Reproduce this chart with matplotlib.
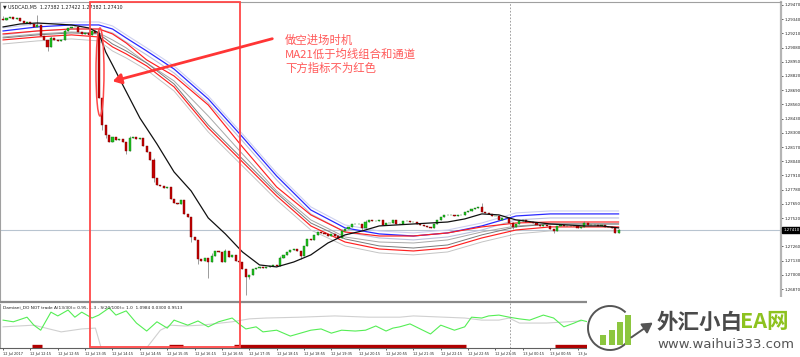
import numpy as np
import matplotlib
matplotlib.use('Agg')
import matplotlib.pyplot as plt
from matplotlib.patches import Rectangle, Ellipse, Arc, FancyArrowPatch

# ---------------- data (USDCAD M5) ----------------
open0 = 1.29340
closes = [
    1.29333, 1.29351, 1.29360, 1.29342, 1.29351, 1.29324, 1.29305, 1.29314, 1.29296, 1.29269,
    1.29287, 1.29186, 1.29150, 1.29086, 1.29168, 1.29150, 1.29141, 1.29150, 1.29232, 1.29260,
    1.29269, 1.29269, 1.29223, 1.29205, 1.29214, 1.29196, 1.29232, 1.29214, 1.28619, 1.28372,
    1.28281, 1.28216, 1.28262, 1.28235, 1.28244, 1.28216, 1.28134, 1.28253, 1.28262, 1.28244,
    1.28253, 1.28180, 1.28125, 1.28052, 1.27887, 1.27823, 1.27814, 1.27796, 1.27805, 1.27695,
    1.27658, 1.27649, 1.27686, 1.27558, 1.27530, 1.27347, 1.27320, 1.27146, 1.27128, 1.27155,
    1.27118, 1.27173, 1.27219, 1.27210, 1.27118, 1.27219, 1.27164, 1.27183, 1.27128, 1.27118,
    1.27054, 1.26981, 1.27000, 1.27054, 1.27064, 1.27073, 1.27064, 1.27073, 1.27082, 1.27091,
    1.27082, 1.27155, 1.27183, 1.27210, 1.27228, 1.27237, 1.27219, 1.27173, 1.27265, 1.27329,
    1.27320, 1.27366, 1.27393, 1.27384, 1.27375, 1.27356, 1.27375, 1.27356, 1.27338, 1.27402,
    1.27420, 1.27439, 1.27466, 1.27466, 1.27466, 1.27430, 1.27484, 1.27503, 1.27494, 1.27494,
    1.27503, 1.27457, 1.27475, 1.27475, 1.27503, 1.27466, 1.27466, 1.27494, 1.27494, 1.27484,
    1.27484, 1.27466, 1.27457, 1.27448, 1.27439, 1.27430, 1.27466, 1.27503, 1.27530, 1.27549,
    1.27549, 1.27549, 1.27539, 1.27549, 1.27549, 1.27576, 1.27585, 1.27603, 1.27613, 1.27622,
    1.27576, 1.27567, 1.27558, 1.27539, 1.27539, 1.27503, 1.27521, 1.27521, 1.27475, 1.27439,
    1.27466, 1.27494, 1.27503, 1.27484, 1.27484, 1.27475, 1.27457, 1.27448, 1.27457, 1.27448,
    1.27420, 1.27402, 1.27448, 1.27457, 1.27448, 1.27448, 1.27448, 1.27448, 1.27430, 1.27439,
    1.27475, 1.27457, 1.27457, 1.27457, 1.27448, 1.27457, 1.27439, 1.27439, 1.27430, 1.27382,
    1.27410]

wick_hi = {0: 1.29370, 9: 1.29300, 10: 1.29379, 14: 1.29190, 18: 1.29250, 28: 1.29240,
           37: 1.28270, 44: 1.28070, 61: 1.27200, 65: 1.27240, 81: 1.27170, 99: 1.27420,
           106: 1.27500, 140: 1.27658, 149: 1.27480, 170: 1.27490, 180: 1.27422}
wick_lo = {13: 1.29050, 29: 1.28326, 30: 1.28250, 36: 1.28110, 44: 1.27850, 55: 1.27300,
           57: 1.27100, 60: 1.26972, 71: 1.26817, 72: 1.26960, 87: 1.27150, 105: 1.27410,
           149: 1.27420, 161: 1.27380}

# moving averages / tunnel, sampled at these bars
knots = [0, 10, 20, 28, 32, 36, 42, 50, 60, 70, 80, 90, 100, 110, 120, 130, 140, 150, 160, 170, 180]
halo_top = [1.29260, 1.29296, 1.29314, 1.29314, 1.29278, 1.29196, 1.29077, 1.28912, 1.28637, 1.28290, 1.27933,
            1.27622, 1.27457, 1.27402, 1.27384, 1.27411, 1.27475, 1.27567, 1.27585, 1.27585, 1.27585]
ma_blue = [1.29232, 1.29269, 1.29287, 1.29287, 1.29250, 1.29168, 1.29049, 1.28884, 1.28610, 1.28262, 1.27905,
           1.27594, 1.27430, 1.27375, 1.27356, 1.27384, 1.27448, 1.27539, 1.27558, 1.27558, 1.27558]
gray_a = [1.29196, 1.29232, 1.29250, 1.29250, 1.29214, 1.29131, 1.29013, 1.28848, 1.28573, 1.28226, 1.27869,
          1.27558, 1.27393, 1.27338, 1.27320, 1.27347, 1.27411, 1.27503, 1.27521, 1.27521, 1.27521]
red_up = [1.29205, 1.29232, 1.29250, 1.29250, 1.29205, 1.29122, 1.28967, 1.28820, 1.28555, 1.28171, 1.27805,
          1.27549, 1.27393, 1.27356, 1.27356, 1.27384, 1.27439, 1.27475, 1.27484, 1.27484, 1.27484]
gray_b = [1.29177, 1.29205, 1.29223, 1.29214, 1.29150, 1.29077, 1.28939, 1.28775, 1.28454, 1.28107, 1.27768,
          1.27503, 1.27347, 1.27301, 1.27292, 1.27320, 1.27393, 1.27448, 1.27466, 1.27466, 1.27466]
gray_c = [1.29168, 1.29196, 1.29214, 1.29205, 1.29113, 1.29049, 1.28939, 1.28747, 1.28372, 1.28061, 1.27750,
          1.27475, 1.27329, 1.27265, 1.27246, 1.27274, 1.27366, 1.27439, 1.27466, 1.27466, 1.27466]
red_lo = [1.29150, 1.29177, 1.29196, 1.29177, 1.29086, 1.29022, 1.28912, 1.28720, 1.28345, 1.28034, 1.27723,
          1.27448, 1.27301, 1.27237, 1.27219, 1.27246, 1.27338, 1.27411, 1.27439, 1.27439, 1.27439]
gray_d = [1.29113, 1.29141, 1.29159, 1.29141, 1.29049, 1.28985, 1.28875, 1.28683, 1.28308, 1.27997, 1.27686,
          1.27411, 1.27265, 1.27201, 1.27183, 1.27210, 1.27301, 1.27375, 1.27402, 1.27402, 1.27402]

ma21_idx = [0, 5, 10, 15, 20, 25, 28, 30, 32, 35, 40, 45, 50, 55, 60, 65, 70, 75, 80, 85, 90, 95,
            100, 105, 110, 115, 120, 125, 130, 135, 140, 145, 150, 155, 160, 165, 170, 175, 180]
ma21 = [1.29269, 1.29296, 1.29305, 1.29296, 1.29287, 1.29260, 1.29214, 1.29040, 1.28921, 1.28738,
        1.28436, 1.28198, 1.27942, 1.27768, 1.27521, 1.27375, 1.27210, 1.27091, 1.27073, 1.27118,
        1.27183, 1.27292, 1.27366, 1.27402, 1.27448, 1.27457, 1.27466, 1.27475, 1.27484, 1.27512,
        1.27558, 1.27549, 1.27503, 1.27484, 1.27466, 1.27457, 1.27448, 1.27448, 1.27430]
last_price = 1.27410

# Damiani volatmeter sub window
green_idx = [0, 3, 7, 9, 11, 14, 16, 19, 21, 23, 26, 28, 31, 33, 36, 39, 42, 45, 48, 50, 54, 57, 60,
             63, 67, 69, 71, 74, 76, 80, 84, 87, 90, 93, 96, 99, 103, 106, 109, 112, 114, 116, 119,
             122, 125, 128, 132, 135, 137, 140, 142, 145, 148, 151, 154, 158, 161, 164, 167, 169, 171]
green_val = [0.64, 0.60, 0.71, 0.52, 0.40, 0.83, 0.74, 0.88, 0.71, 0.83, 0.69, 0.76, 0.93, 0.76, 0.86,
             0.57, 0.38, 0.60, 0.45, 0.64, 0.52, 0.62, 0.48, 0.60, 0.69, 0.55, 0.43, 0.48, 0.36, 0.40,
             0.26, 0.33, 0.40, 0.43, 0.33, 0.40, 0.38, 0.40, 0.50, 0.38, 0.45, 0.48, 0.55, 0.43, 0.31,
             0.52, 0.40, 0.48, 0.71, 0.69, 0.74, 0.76, 0.71, 0.67, 0.64, 0.76, 0.69, 0.48, 0.57, 0.64, 0.60]
gray_idx = [0, 9, 17, 23, 27, 28, 30, 40, 42, 46, 49, 53, 58, 67, 72, 77, 87, 97, 107, 116, 120,
            135, 140, 145, 148, 151, 159, 169]
gray_val = [0.48, 0.52, 0.36, 0.43, 0.45, 0.17, -0.40, -0.40, -0.02, 0.40, 0.52, 0.50, 0.52, 0.60,
            0.67, 0.69, 0.71, 0.74, 0.71, 0.71, 0.74, 0.69, 0.64, 0.64, 0.69, 0.57, 0.57, 0.62]
red_zones = [(9, 11), (49, 52), (68, 135), (162, 180)]

# 1.27390 sits under the live price box, so it is not listed
price_ticks = [1.26870, 1.27000, 1.27130, 1.27260, 1.27520, 1.27650, 1.27780, 1.27910,
               1.28040, 1.28170, 1.28300, 1.28430, 1.28560, 1.28690, 1.28820, 1.28950, 1.29080,
               1.29210, 1.29340, 1.29470]
time_ticks = [0, 8, 16, 24, 32, 40, 48, 56, 64, 72, 80, 88, 96, 104, 112, 120, 128, 136, 144, 152, 160, 168]
time_labels = ['12 Jul 2017', '12 Jul 12:15', '12 Jul 12:55', '12 Jul 13:35', '12 Jul 14:15',
               '12 Jul 14:55', '12 Jul 15:35', '12 Jul 16:15', '12 Jul 16:55', '12 Jul 17:35',
               '12 Jul 18:15', '12 Jul 18:55', '12 Jul 19:35', '12 Jul 20:15', '12 Jul 20:55',
               '12 Jul 21:35', '12 Jul 22:15', '12 Jul 22:55', '12 Jul 23:35', '13 Jul 00:15',
               '13 Jul 00:55', '13 Jul 01:35']
cursor_bar = 148.2

# ---------------- figure ----------------
W, H = 800, 357
fig = plt.figure(figsize=(8, 3.57), dpi=100)
ax = fig.add_axes([0, 1 - 302 / H, 781 / W, 300 / H])
ax2 = fig.add_axes([0, 1 - 348 / H, 781 / W, 44 / H])
cjk = ['Noto Sans CJK SC', 'DejaVu Sans']

c = np.array(closes)
o = np.r_[open0, c[:-1]]
idx = np.arange(len(c))
hi = np.maximum(o, c)
lo = np.minimum(o, c)
for k, v in wick_hi.items():
    hi[k] = v
for k, v in wick_lo.items():
    lo[k] = v
up = c >= o

# tunnel lines
ax.plot(knots, halo_top, color='#cdd0f0', lw=0.8, zorder=2)
ax.plot(knots, gray_a, color='#bcc0dc', lw=0.8, zorder=2)
ax.plot(knots, gray_b, color='#a8a8a8', lw=0.7, zorder=2)
ax.plot(knots, gray_c, color='#7a7a7a', lw=0.7, zorder=2)
ax.plot(knots, gray_d, color='#c4c4c4', lw=0.7, zorder=2)
ax.plot(knots, ma_blue, color='#2a2aff', lw=0.9, zorder=3)
ax.plot(knots, red_up, color='#ff2020', lw=0.85, zorder=3)
ax.plot(knots, red_lo, color='#ff2020', lw=0.85, zorder=3)

ax.axhline(last_price, color='#b8c4d0', lw=0.8, zorder=1)
ax.axvline(cursor_bar, color='#909090', lw=0.6, ls=(0, (2, 2)), zorder=1)

# candles
ax.vlines(idx, lo, hi, color='#8c8c8c', lw=0.6, zorder=4)
body = np.maximum(np.abs(c - o), 0.000025)
ax.bar(idx, body, bottom=np.minimum(o, c), width=0.62,
       color=np.where(up, '#1fc21f', '#c40000'),
       edgecolor=np.where(up, '#0a700a', '#7a0000'), linewidth=0.3, zorder=5)

ax.plot(ma21_idx, ma21, color='#111111', lw=0.9, zorder=6)

ax.set_xlim(-0.9, 227.5)
ax.set_ylim(1.26752, 1.29497)
ax.yaxis.tick_right()
ax.set_yticks(price_ticks)
ax.set_yticklabels([f'{v:.5f}' for v in price_ticks])
ax.tick_params(axis='y', labelsize=2.8, length=1.6, width=0.5, pad=1.0, colors='#202020')
ax.set_xticks([])
for s in ['top', 'left']:
    ax.spines[s].set_color('#a0a0a0')
    ax.spines[s].set_linewidth(0.8)
ax.spines['right'].set_color('#b4b4b4')
ax.spines['right'].set_linewidth(1.6)
ax.spines['bottom'].set_color('#8a8a8a')
ax.spines['bottom'].set_linewidth(1.6)
ax.text(0.004, 0.992, '\u25bc USDCAD,M5  1.27382 1.27422 1.27382 1.27410', transform=ax.transAxes,
        va='top', ha='left', fontsize=3.4, color='#202020')
ax.text(1.003, last_price, '1.27410', transform=ax.get_yaxis_transform(), ha='left', va='center',
        fontsize=2.8, color='white', clip_on=False, zorder=10,
        bbox=dict(boxstyle='square,pad=0.25', fc='black', ec='black'))

# sub window
ax2.plot(gray_idx, gray_val, color='#d0d0d0', lw=0.8)
ax2.plot(green_idx, green_val, color='#55ee55', lw=0.8)
for a, b in red_zones:
    ax2.plot([a - 0.5, b + 0.5], [0.025, 0.025], color='#b00000', lw=2.4, solid_capstyle='butt')
ax2.axvline(cursor_bar, ymin=-0.25, ymax=1.05, color='#909090', lw=0.6, ls=(0, (2, 2)), clip_on=False)
ax2.set_xlim(-0.9, 227.5)
ax2.set_ylim(-0.024, 1.024)
ax2.set_yticks([])
ax2.set_xticks(time_ticks)
ax2.set_xticklabels(time_labels, ha='left')
ax2.tick_params(axis='x', labelsize=2.5, length=1.6, width=0.5, pad=1, colors='#202020')
ax2.spines['top'].set_visible(False)
ax2.spines['left'].set_color('#a0a0a0')
ax2.spines['left'].set_linewidth(0.8)
ax2.spines['bottom'].set_color('#606060')
ax2.spines['bottom'].set_linewidth(0.8)
ax2.spines['right'].set_color('#b4b4b4')
ax2.spines['right'].set_linewidth(1.6)
ax2.text(0.004, 0.97, 'Damiani_DO NOT trade A(13/30)= 0.95, 1.3 - S(20/100)= 1.0  1.0984 0.0300 0.9513',
         transform=ax2.transAxes, va='top', ha='left', fontsize=3.1, color='#202020')

# hand drawn annotations
fig.patches.append(Rectangle((90 / W, 1 - 347 / H), 150 / W, 345 / H, transform=fig.transFigure,
                             fill=False, ec='#ff4848', lw=1.3, zorder=20))
fig.patches.append(Ellipse((100 / W, 1 - 72 / H), 8 / W, 88 / H, transform=fig.transFigure,
                           fill=False, ec='#ff4848', lw=1.1, zorder=20))
fig.patches.append(FancyArrowPatch((275 / W, 1 - 38 / H), (110 / W, 1 - 82 / H),
                                   transform=fig.transFigure, arrowstyle='-|>,head_length=5,head_width=3',
                                   color='#ff3535', lw=2.0, zorder=21))
for txt, yy in [('做空进场时机', 40), ('MA21低于均线组合和通道', 54), ('下方指标不为红色', 68)]:
    fig.text(285 / W, 1 - yy / H, txt, family=cjk, fontsize=8.2, color='#ff5a5a', va='center', ha='left')

# logo overlay
lg = fig.add_axes([587 / W, 0, 213 / W, 60 / H], zorder=30)
lg.set_facecolor('white')
lg.set_xlim(0, 213)
lg.set_ylim(0, 60)
lg.axis('off')
lg.add_patch(Rectangle((0, 0), 213, 60, fc='white', ec='none'))
lg.add_patch(Arc((23, 29), 44, 44, theta1=45, theta2=330, color='#555555', lw=1.4))
lg.annotate('', xy=(68, 36), xytext=(42, 18),
            arrowprops=dict(arrowstyle='-|>,head_length=0.6,head_width=0.35', color='#555555', lw=1.4))
for x0, top in [(13, 22), (22, 27), (30, 35), (38, 42)]:
    lg.add_patch(Rectangle((x0, 12), 5.5, top - 12, fc='#8cc63f', ec='none'))
lg.text(70, 35, '外汇小白', family=cjk, fontsize=15.5, fontweight='bold', color='#4a4a4a',
        va='center', ha='left')
lg.text(153, 35, 'EA网', family=cjk, fontsize=15.5, fontweight='bold', color='#8dc21f',
        va='center', ha='left')
lg.text(70, 13, 'www.waihui333.com', fontsize=9.5, color='#555555', va='center', ha='left')

plt.savefig('out.png', dpi=100)
